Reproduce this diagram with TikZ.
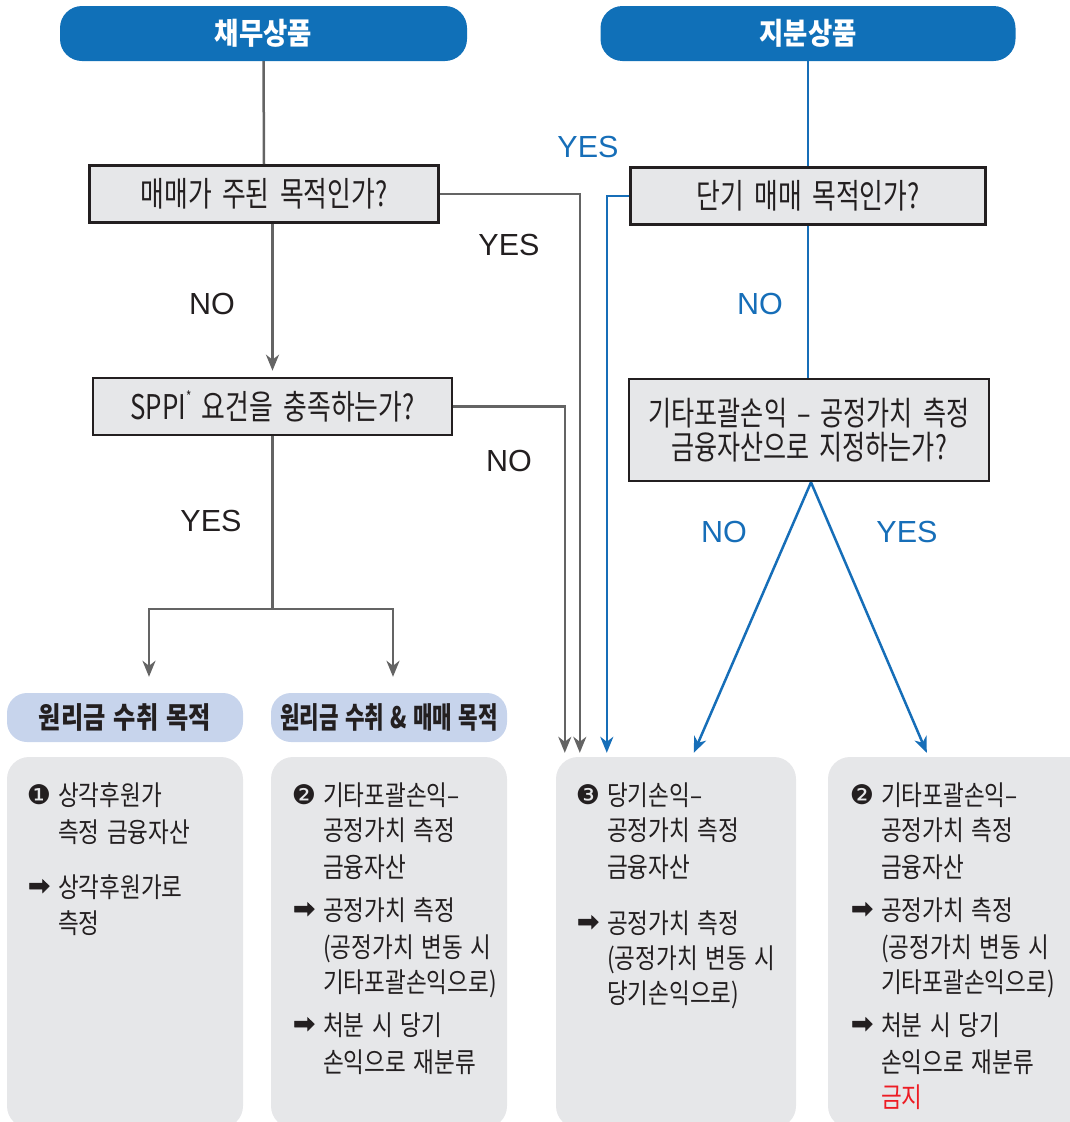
\documentclass[tikz,border=0pt]{standalone}
\usepackage{fontspec}
\newfontfamily\kr[FakeStretch=0.82,WordSpace=1.5]{Noto Sans CJK KR}
\newfontfamily\krc[FakeStretch=0.72,WordSpace=1.3]{Noto Sans CJK KR}
\newfontfamily\krq[FakeStretch=0.76,WordSpace=1.8]{Noto Sans CJK KR}
\newfontfamily\krh[FakeStretch=0.88]{Noto Sans CJK KR}
\newfontfamily\lat{Liberation Sans}
\newfontfamily\dvs{DejaVu Sans}
\newfontfamily\dvsb[FakeBold=2.5]{DejaVu Sans}
\usetikzlibrary{arrows.meta,calc}
\definecolor{hdrblue}{RGB}{16,112,184}
\definecolor{lblue}{RGB}{22,110,184}
\definecolor{lgray}{RGB}{100,100,100}
\definecolor{boxfill}{RGB}{230,231,233}
\definecolor{catfill}{RGB}{199,212,236}
\definecolor{txt}{RGB}{35,31,32}
\definecolor{kred}{RGB}{237,28,36}
\tikzset{
  hdr/.style={rectangle, rounded corners=22pt, fill=hdrblue, text=white,
    font=\krh\bfseries\fontsize{30}{33}\selectfont, minimum height=55pt, inner sep=0},
  qbox/.style={rectangle, draw=txt, line width=2.6pt, fill=boxfill, text=txt,
    font=\krq\fontsize{34}{38}\selectfont, minimum height=57pt, inner sep=0, align=center},
  cat/.style={rectangle, rounded corners=20pt, fill=catfill, text=txt,
    font=\kr\bfseries\fontsize{29.5}{32}\selectfont, minimum height=49pt, inner sep=0},
  res/.style={rectangle, rounded corners=22pt, fill=boxfill, inner sep=0},
  gline/.style={draw=lgray, line width=2.5pt},
  bline/.style={draw=lblue, line width=2.5pt},
  tip/.style={-{Stealth[length=16pt,width=13pt,inset=5pt]}},
  lbl/.style={font=\lat\fontsize{30.5}{34}\selectfont, inner sep=0},
  ln/.style={anchor=base west, inner sep=0, font=\kr\fontsize{27.5}{30}\selectfont, text=txt},
  bul/.style={inner sep=0, font=\dvs\fontsize{27}{30}\selectfont, text=txt},
  arw/.style={inner sep=0, font=\dvsb\fontsize{26}{30}\selectfont, text=txt},
}
\begin{document}
\begin{tikzpicture}[x=1pt,y=-1pt]
\useasboundingbox (0,0) rectangle (1070,1122);
\clip (0,0) rectangle (1070,1122);

% headers
\node[hdr, minimum width=407pt] (h1) at (263.5,33.5) {채무상품};
\node[hdr, minimum width=415pt] (h2) at (808,33.5) {지분상품};

% question boxes
\node[qbox, minimum width=349pt] (q1) at (264,194) {매매가 주된 목적인가?};
\node[qbox, minimum width=359pt] (q2) at (272.5,406.5) {SPPI\raisebox{0.5em}{\fontsize{15}{15}\selectfont *} 요건을 충족하는가?};
\node[qbox, minimum width=355pt] (q3) at (808,196) {단기 매매 목적인가?};
\node[qbox, minimum width=360pt, minimum height=102pt, font=\krq\fontsize{33}{34}\selectfont] (q4) at (809,430) {기타포괄손익 – 공정가치 측정\\금융자산으로 지정하는가?};

% category labels
\node[cat, minimum width=236pt] (c1) at (125,717.5) {원리금 수취 목적};
\node[cat, minimum width=236pt, font=\krc\bfseries\fontsize{29.5}{32}\selectfont] (c2) at (389,717.5) {원리금 수취 \& 매매 목적};

% result boxes
\node[res, minimum width=236pt, minimum height=371pt] (r1) at (125,942.5) {};
\node[res, minimum width=236pt, minimum height=371pt] (r2) at (389,942.5) {};
\node[res, minimum width=240pt, minimum height=371pt] (r3) at (676,942.5) {};
\node[res, minimum width=262pt, minimum height=371pt] (r4) at (959,942.5) {};

% left (gray) connectors
\draw[gline] (h1.south) -- (q1.north);
\draw[gline, tip, shorten >=6pt] (q1.south -| q2.north) -- (q2.north);
\draw[gline, tip] (q1.east) -| ($(r3.north west)+(24,-4)$);
\draw[gline, tip] (q2.east) -| ($(r3.north west)+(9,-4)$);
\coordinate (split) at (272.5,609);
\draw[gline] (q2.south) -- (split);
\draw[gline, tip] (split) -| ($(c1.north)+(24,-16)$);
\draw[gline, tip] (split) -| ($(c2.north)+(4,-16)$);

% right (blue) connectors
\draw[bline] (h2.south) -- (q3.north);
\draw[bline] (q3.south) -- (q3.south |- q4.north);
\draw[bline, tip] (q3.west) -| ($(r3.north west)+(51,-4)$);
\draw[bline, tip] ([xshift=2pt]q4.south) -- ($(r3.north west)+(138,-4)$);
\draw[bline, tip] ([xshift=2pt]q4.south) -- ($(r4.north west)+(99,-4)$);

% labels
\node[lbl, text=txt] (l1) at (212,304) {NO};
\node[lbl, text=txt] (l2) at (509,245) {YES};
\node[lbl, text=txt] (l3) at (509,461) {NO};
\node[lbl, text=txt] (l4) at (211,521) {YES};
\node[lbl, text=lblue] (l5) at (588,147) {YES};
\node[lbl, text=lblue] (l6) at (760,304) {NO};
\node[lbl, text=lblue] (l7) at (724,532) {NO};
\node[lbl, text=lblue] (l8) at (907,532) {YES};

% box 1 text
\node[bul] (b1a) at (39,795) {❶};
\node[arw] (b1b) at (39,887) {➡};
\foreach \yy/\tx [count=\i] in {795/상각후원가, 832/측정 금융자산, 887/상각후원가로, 923/측정}
  \node[ln] (t1-\i) at (58,\yy+10) {\tx};

% box 2 text
\node[bul] (b2a) at (304,795) {❷};
\node[arw] (b2b) at (304,910) {➡};
\node[arw] (b2c) at (304,1025) {➡};
\foreach \yy/\tx [count=\i] in {795/기타포괄손익–, 830/공정가치 측정, 867/금융자산, 910/공정가치 측정, 947/(공정가치 변동 시, 982/기타포괄손익으로), 1025/처분 시 당기, 1062/손익으로 재분류}
  \node[ln] (t2-\i) at (323,\yy+10) {\tx};

% box 3 text
\node[bul] (b3a) at (588,795) {❸};
\node[arw] (b3b) at (588,923) {➡};
\foreach \yy/\tx [count=\i] in {795/당기손익–, 830/공정가치 측정, 867/금융자산, 923/공정가치 측정, 958/(공정가치 변동 시, 993/당기손익으로)}
  \node[ln] (t3-\i) at (607,\yy+10) {\tx};

% box 4 text
\node[bul] (b4a) at (862,795) {❷};
\node[arw] (b4b) at (862,910) {➡};
\node[arw] (b4c) at (862,1025) {➡};
\foreach \yy/\tx [count=\i] in {795/기타포괄손익–, 830/공정가치 측정, 867/금융자산, 910/공정가치 측정, 947/(공정가치 변동 시, 982/기타포괄손익으로), 1025/처분 시 당기, 1062/손익으로 재분류}
  \node[ln] (t4-\i) at (881,\yy+10) {\tx};
\node[ln, text=kred] (t4-9) at (881,1107) {금지};
\end{tikzpicture}
\end{document}
